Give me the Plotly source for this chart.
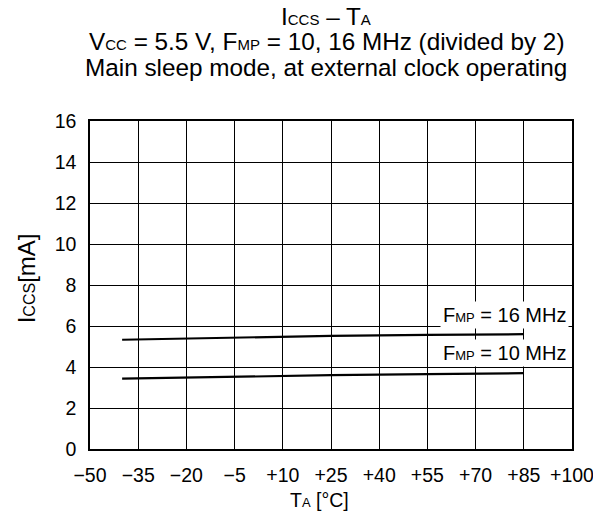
import plotly.graph_objects as go

# temperature points and current readings (mA)
temps = [-40, -5, 25, 55, 85]
iccs_16mhz = [5.33, 5.45, 5.52, 5.57, 5.6]
iccs_10mhz = [3.43, 3.53, 3.6, 3.65, 3.7]

x_ticks = [-50, -35, -20, -5, 10, 25, 40, 55, 70, 85, 100]
x_tick_text = ['\u221250', '\u221235', '\u221220', '\u22125', '+10', '+25', '+40', '+55', '+70', '+85', '+100']
y_ticks = [0, 2, 4, 6, 8, 10, 12, 14, 16]

def sc(s, size=14):
    return '<span style="font-size:%dpx">%s</span>' % (size, s)

fig = go.Figure()
fig.add_trace(go.Scatter(x=temps, y=iccs_16mhz, mode='lines',
                         line=dict(color='black', width=2.2), showlegend=False))
fig.add_trace(go.Scatter(x=temps, y=iccs_10mhz, mode='lines',
                         line=dict(color='black', width=2.2), showlegend=False))

fig.add_annotation(x=99, y=6.54, xref='x', yref='y', xanchor='right',
                   text='F' + sc('MP', 13) + ' = 16 MHz', showarrow=False,
                   bgcolor='white', font=dict(size=20), borderpad=2)
fig.add_annotation(x=99, y=4.68, xref='x', yref='y', xanchor='right',
                   text='F' + sc('MP', 13) + ' = 10 MHz', showarrow=False,
                   bgcolor='white', font=dict(size=20), borderpad=2)

# title, three lines
title_lines = [
    'I' + sc('CCS', 15) + ' \u2013 T' + sc('A', 15),
    'V' + sc('CC', 15) + ' = 5.5 V, F' + sc('MP', 15) + ' = 10, 16 MHz (divided by 2)',
    'Main sleep mode, at external clock operating',
]
for line, yy in zip(title_lines, [1.319, 1.241, 1.162]):
    fig.add_annotation(x=0.49, y=yy, xref='paper', yref='paper', text=line,
                       showarrow=False, xanchor='center', yanchor='middle',
                       font=dict(size=24.3))

# axis titles
fig.add_annotation(x=0.476, y=-0.155, xref='paper', yref='paper',
                   text='T' + sc('A', 13) + ' [\u00b0C]', showarrow=False,
                   xanchor='center', yanchor='middle', font=dict(size=19.5))
fig.add_annotation(x=-0.131, y=0.52, xref='paper', yref='paper',
                   text='I' + sc('CCS', 16) + '[mA]', showarrow=False, textangle=-90,
                   xanchor='center', yanchor='middle', font=dict(size=24))

fig.update_layout(
    width=601, height=512,
    margin=dict(l=82, r=37, t=113, b=71),
    paper_bgcolor='white', plot_bgcolor='white',
    font=dict(family='Liberation Sans, Arial, sans-serif', size=19, color='black'),
    xaxis=dict(range=[-50, 100], tickvals=x_ticks, ticktext=x_tick_text,
               showgrid=True, gridcolor='black', gridwidth=1,
               showline=True, linecolor='black', linewidth=1.5, mirror=True,
               zeroline=False, ticks='', tickfont=dict(size=19.5),
               ticklabelstandoff=8, automargin=False),
    yaxis=dict(range=[0, 16], tickvals=y_ticks,
               showgrid=True, gridcolor='black', gridwidth=1,
               showline=True, linecolor='black', linewidth=1.5, mirror=True,
               zeroline=False, ticks='', tickfont=dict(size=19.5),
               ticklabelstandoff=8, automargin=False),
)

fig.write_html("out.html")
